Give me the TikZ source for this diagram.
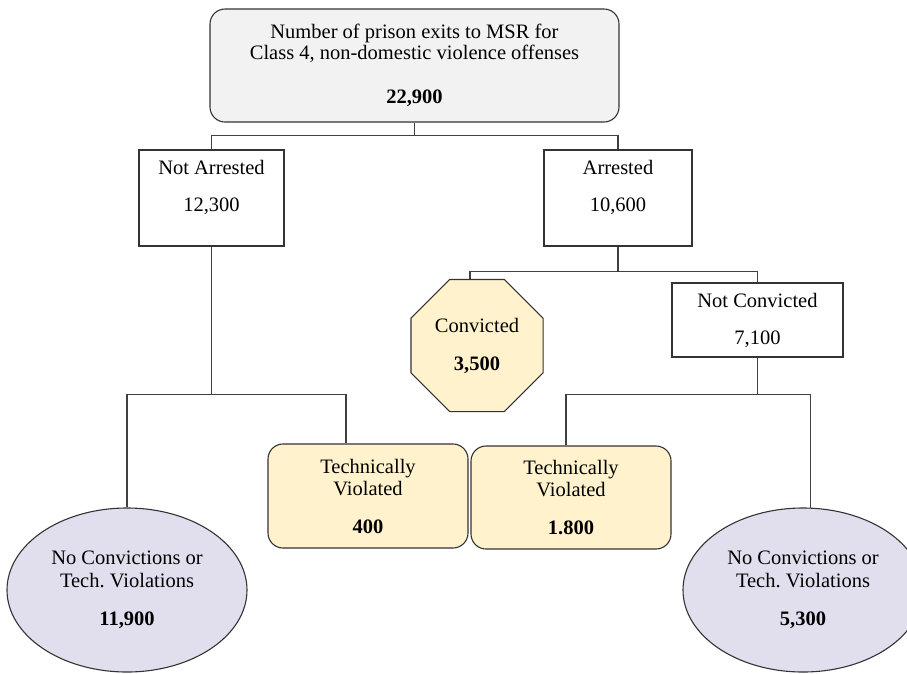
\documentclass[tikz,border=0pt]{standalone}
\usepackage{fontspec}
\setmainfont{Liberation Serif}
\usetikzlibrary{shapes.geometric}
\definecolor{headfill}{HTML}{F2F2F2}
\definecolor{violfill}{HTML}{FFF2CC}
\definecolor{cleanfill}{HTML}{E1DFED}

\begin{document}
\begin{tikzpicture}[x=1pt, y=-1pt, line width=1.1pt,
    every node/.style={draw=black!80, align=center, inner sep=0pt, font=\fontsize{20.5}{21}\selectfont},
    squarebox/.style={rectangle},
    roundbox/.style={rectangle, rounded corners=15pt},
    link/.style={draw=black!75, line width=1.1pt}]
    \useasboundingbox (0,0) rectangle (907,673);

    \node[roundbox, fill=headfill, minimum width=409pt, minimum height=113pt] (head) at (414.5, 65.5)
        {Number of prison exits to MSR for\\Class 4, non-domestic violence offenses\\[23pt]\textbf{22,900}};
    \node[squarebox, minimum width=145pt, minimum height=96pt] (notarr) at (211.5, 198)
        {\strut Not Arrested\\[16pt]12,300\\[-2.6pt]\strut};
    \node[squarebox, minimum width=148pt, minimum height=96pt] (arr) at (618, 198)
        {\strut Arrested\\[16pt]10,600\\[-2.6pt]\strut};
    \node[regular polygon, regular polygon sides=8, minimum size=143pt, fill=violfill] (conv) at (477, 345.5)
        {Convicted\\[17pt]\textbf{3,500}};
    \node[squarebox, minimum width=171pt, minimum height=74pt] (notconv) at (757.5, 320)
        {Not Convicted\\[16pt]7,100};
    \node[roundbox, fill=violfill, minimum width=200pt, minimum height=104pt] (tvL) at (368, 496)
        {Technically\\[1pt]Violated\\[17pt]\textbf{400}};
    \node[roundbox, fill=violfill, minimum width=200pt, minimum height=103pt] (tvR) at (571, 497.5)
        {Technically\\[1pt]Violated\\[17pt]\textbf{1.800}};
    \node[ellipse, fill=cleanfill, minimum width=240pt, minimum height=164pt] (noneL) at (127, 590)
        {No Convictions or\\[2pt]Tech.\ Violations\\[17pt]\textbf{11,900}};
    \node[ellipse, fill=cleanfill, minimum width=240pt, minimum height=164pt] (noneR) at (803, 590)
        {No Convictions or\\[2pt]Tech.\ Violations\\[17pt]\textbf{5,300}};

    % elbow connectors
    \draw[link] (head.south) -- ++(0,13) -| (notarr.north);
    \draw[link] (head.south) -- ++(0,13) -| (arr.north);
    \draw[link] (arr.south) -- ++(0,25) -| ([xshift=-7pt]conv.north);
    \draw[link] (arr.south) -- ++(0,25) -| (notconv.north);
    \draw[link] (notarr.south) -- ++(0,148) -| (noneL.north);
    \draw[link] (notarr.south) -- ++(0,148) -| ([xshift=-22pt]tvL.north);
    \draw[link] (notconv.south) -- ++(0,37) -| ([xshift=-5pt]tvR.north);
    \draw[link] (notconv.south) -- ++(0,37) -| (noneR.85);
\end{tikzpicture}
\end{document}
